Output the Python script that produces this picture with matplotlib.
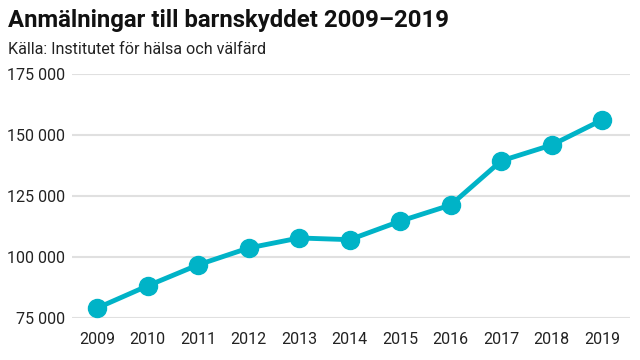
import matplotlib
matplotlib.use("Agg")
import matplotlib.pyplot as plt
from matplotlib.ticker import FuncFormatter

# Anmälningar till barnskyddet per år
years = [2009, 2010, 2011, 2012, 2013, 2014, 2015, 2016, 2017, 2018, 2019]
reports = [79100, 88200, 96800, 103700, 107800, 107100, 114700, 121300, 139400, 145900, 156200]
yticks = [75000, 100000, 125000, 150000, 175000]

color = "#00b3c7"
plt.rcParams['font.family'] = ['Roboto', 'DejaVu Sans']

fig = plt.figure(figsize=(6.4, 3.6), dpi=100)
ax = fig.add_axes([72/640, 42/360, 558/640, 244/360])

ax.plot(years, reports, color=color, lw=3.5, marker='o', ms=13, clip_on=False, zorder=3)

ax.set_ylim(75000, 175000)
ax.set_xlim(2008.5, 2019.55)
ax.set_yticks(yticks)
ax.set_xticks(years)
ax.yaxis.set_major_formatter(FuncFormatter(lambda v, p: f"{int(v):,}".replace(",", " ")))
ax.grid(axis='y', color='#e0e0e0', lw=1.5)
ax.set_axisbelow(True)
for s in ax.spines.values():
    s.set_visible(False)
ax.tick_params(length=0, labelsize=11.5, colors='#222222')
ax.tick_params(axis='y', pad=5)
ax.tick_params(axis='x', pad=10)

fig.text(8/640, 1 - 21/360, "Anmälningar till barnskyddet 2009–2019", fontsize=17.2,
         fontweight='bold', va='center', ha='left', color='#111111')
fig.text(8/640, 1 - 50/360, "Källa: Institutet för hälsa och välfärd", fontsize=11.6,
         va='center', ha='left', color='#222222')

fig.savefig("out.png", dpi=100)
